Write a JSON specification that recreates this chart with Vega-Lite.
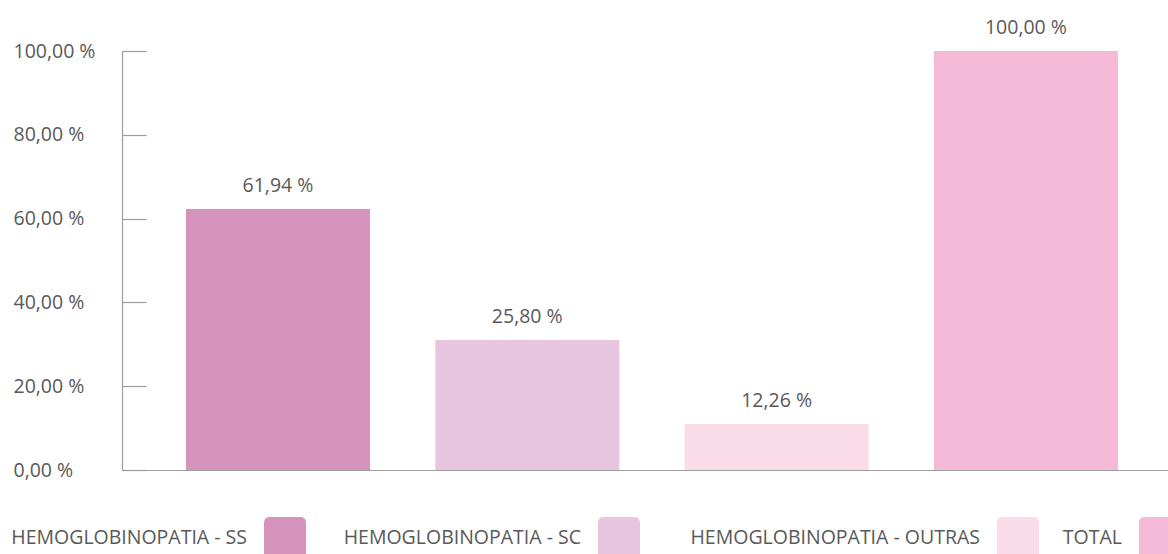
{
  "$schema": "https://vega.github.io/schema/vega-lite/v6.json",
  "width": 1046,
  "height": 419,
  "autosize": {"type": "none"},
  "padding": {"left": 122, "top": 51, "right": 0, "bottom": 84},
  "config": {
    "view": {"stroke": null},
    "font": "Open Sans",
    "legend": {
      "orient": "none",
      "direction": "horizontal",
      "symbolType": "M -0.72 -1 L 0.72 -1 Q 1 -1 1 -0.72 L 1 0.72 Q 1 1 0.72 1 L -0.72 1 Q -1 1 -1 0.72 L -1 -0.72 Q -1 -1 -0.72 -1 Z",
      "symbolSize": 1764,
      "symbolStrokeWidth": 0,
      "symbolOpacity": 1,
      "labelAlign": "right",
      "labelOffset": -59,
      "labelFontSize": 19.5,
      "labelColor": "#595959",
      "labelLimit": 0,
      "columnPadding": 37
    }
  },
  "data": {
    "values": [
      {"category": "HEMOGLOBINOPATIA - SS", "value": 62.3, "label": "61,94 %"},
      {"category": "HEMOGLOBINOPATIA - SC", "value": 31.0, "label": "25,80 %"},
      {"category": "HEMOGLOBINOPATIA - OUTRAS", "value": 11.0, "label": "12,26 %"},
      {"category": "TOTAL", "value": 100, "label": "100,00 %"}
    ]
  },
  "encoding": {
    "x": {
      "field": "category",
      "type": "nominal",
      "sort": null,
      "scale": {
        "domain": ["HEMOGLOBINOPATIA - SS", "HEMOGLOBINOPATIA - SC", "HEMOGLOBINOPATIA - OUTRAS", "TOTAL"],
        "paddingInner": 0.262, "paddingOuter": 0.2286, "align": 0.561
      },
      "axis": {"title": null, "labels": false, "ticks": false, "domainColor": "#9d9d9d", "domainWidth": 1.2}
    },
    "y": {
      "field": "value",
      "type": "quantitative",
      "scale": {"domain": [0, 100], "nice": false},
      "axis": {
        "title": null,
        "values": [0, 20, 40, 60, 80, 100],
        "labelExpr": "replace(format(datum.value, '.2f'), '.', ',') + ' %'",
        "labelAlign": "left",
        "labelBaseline": "middle",
        "labelPadding": 133,
        "labelFontSize": 19.5,
        "labelColor": "#595959",
        "tickSize": -24,
        "tickColor": "#9d9d9d",
        "tickWidth": 1.2,
        "domainColor": "#9d9d9d",
        "domainWidth": 1.2,
        "grid": false
      }
    }
  },
  "layer": [
    {
      "transform": [{"filter": "datum.category == 'HEMOGLOBINOPATIA - SS' || datum.category == 'HEMOGLOBINOPATIA - SC'"}],
      "mark": {"type": "bar"},
      "encoding": {
        "color": {
          "field": "category",
          "type": "nominal",
          "sort": null,
          "scale": {
            "domain": ["HEMOGLOBINOPATIA - SS", "HEMOGLOBINOPATIA - SC", "HEMOGLOBINOPATIA - OUTRAS", "TOTAL"],
            "range": ["#d592bd", "#e8c5de", "#f9dce8", "#f3b9d7"]
          },
          "legend": {"title": null, "values": ["HEMOGLOBINOPATIA - SS", "HEMOGLOBINOPATIA - SC"], "legendX": 142, "legendY": 466}
        }
      }
    },
    {
      "transform": [{"filter": "datum.category == 'HEMOGLOBINOPATIA - OUTRAS'"}],
      "mark": {"type": "bar"},
      "encoding": {
        "color": {
          "field": "category",
          "type": "nominal",
          "sort": null,
          "scale": {
            "domain": ["HEMOGLOBINOPATIA - SS", "HEMOGLOBINOPATIA - SC", "HEMOGLOBINOPATIA - OUTRAS", "TOTAL"],
            "range": ["#d592bd", "#e8c5de", "#f9dce8", "#f3b9d7"]
          },
          "legend": {"title": null, "values": ["HEMOGLOBINOPATIA - OUTRAS"], "legendX": 875, "legendY": 466}
        }
      }
    },
    {
      "transform": [{"filter": "datum.category == 'TOTAL'"}],
      "mark": {"type": "bar"},
      "encoding": {
        "color": {
          "field": "category",
          "type": "nominal",
          "sort": null,
          "scale": {
            "domain": ["HEMOGLOBINOPATIA - SS", "HEMOGLOBINOPATIA - SC", "HEMOGLOBINOPATIA - OUTRAS", "TOTAL"],
            "range": ["#d592bd", "#e8c5de", "#f9dce8", "#f3b9d7"]
          },
          "legend": {"title": null, "values": ["TOTAL"], "legendX": 1017, "legendY": 466}
        }
      }
    },
    {
      "mark": {"type": "text", "baseline": "alphabetic", "dy": -17, "fontSize": 19.5, "color": "#595959"},
      "encoding": {"text": {"field": "label"}}
    }
  ],
  "resolve": {"scale": {"color": "shared"}, "legend": {"color": "independent"}}
}
